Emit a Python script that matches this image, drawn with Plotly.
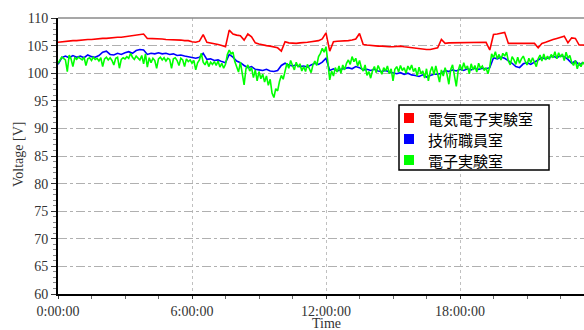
import numpy as np
import plotly.graph_objects as go

# ---- data -------------------------------------------------------------
series_names = ["電気電子実験室", "技術職員室", "電子実験室"]
series_colors = ["#ff0000", "#0000ff", "#00ff00"]

# 電気電子実験室, every 10 minutes from 0:00 (V)
red_v = [
    105.6, 105.7, 105.8, 105.8, 105.9, 105.9,
    106.0, 106.0, 106.1, 106.1, 106.2, 106.2,
    106.3, 106.3, 106.4, 106.4, 106.5, 106.5,
    106.6, 106.7, 106.8, 106.9, 107.0, 107.1,
    106.3, 106.3, 106.2, 106.2, 106.2, 106.1,
    106.1, 106.1, 106.0, 106.0, 105.9, 105.9,
    105.7, 105.6, 105.8, 107.0, 105.6, 105.5,
    105.3, 105.2, 105.0, 104.8, 107.8, 107.1,
    106.9, 106.8, 106.0, 107.1, 106.6, 105.5,
    105.3, 105.1, 105.0, 104.9, 104.7, 104.6,
    104.0, 105.7, 105.5, 105.4, 105.4, 105.5,
    105.5, 105.6, 105.7, 105.8, 105.9, 106.2,
    107.3, 104.0, 105.7, 105.8, 105.8, 105.9,
    105.9, 106.0, 106.2, 107.2, 105.2, 105.1,
    105.0, 105.0, 104.9, 104.9, 104.8, 104.8,
    104.8, 104.9, 104.9, 104.8, 104.7, 104.6,
    104.5, 104.4, 104.3, 104.3, 104.3, 104.4,
    104.6, 106.1, 105.4, 105.5, 105.5, 105.5,
    105.6, 105.6, 105.5, 105.6, 105.6, 105.5,
    105.5, 105.6, 104.2, 107.0, 107.1, 107.2,
    107.4, 105.4, 105.4, 105.4, 105.3, 105.4,
    105.3, 105.3, 105.4, 104.6, 105.4, 105.6,
    105.9, 106.1, 106.3, 106.5, 106.7, 105.5,
    106.4, 106.3, 105.1, 105.1, 105.0, 105.0,
    105.0,
]

# 技術職員室, every 10 minutes from 0:00 (V)
blue_v = [
    101.6, 102.8, 103.1, 102.8, 103.2, 102.9,
    103.1, 102.8, 103.3, 103.0, 102.9, 103.2,
    103.8, 104.0, 103.4, 103.3, 103.6, 103.4,
    103.7, 103.9, 103.6, 104.1, 104.3, 104.2,
    103.4, 103.6, 103.5, 103.7, 103.5, 103.6,
    103.4, 103.5, 103.2, 103.3, 103.1, 103.0,
    102.9, 102.7, 102.9, 103.6, 102.5, 102.6,
    102.3, 102.4, 102.1, 101.9, 103.4, 102.9,
    102.2, 101.9, 101.4, 101.0, 101.2, 100.7,
    100.6, 100.5, 100.7, 100.4, 100.3, 100.5,
    101.4, 101.8, 101.5, 101.3, 101.5, 101.2,
    101.3, 101.1, 101.5, 101.8, 101.6, 102.0,
    102.7, 100.5, 100.8, 100.4, 100.7, 100.9,
    101.0, 100.8, 101.2, 101.0, 100.6, 100.7,
    100.5, 100.7, 100.4, 100.3, 100.5, 100.2,
    100.0, 99.9, 100.1, 99.8, 100.0, 99.7,
    99.6, 99.4, 99.7, 99.3, 99.6, 99.8,
    99.8, 100.0, 100.5, 100.3, 100.6, 100.4,
    100.7, 100.5, 100.8, 100.6, 100.9, 100.7,
    100.9, 100.8, 101.0, 102.8, 102.6, 102.9,
    102.7, 102.3, 101.8, 101.2, 101.0, 101.7,
    101.9, 101.6, 102.0, 102.5, 102.8, 102.6,
    102.9, 103.1, 102.8, 103.2, 103.0, 102.5,
    101.8, 102.2, 101.5, 101.9, 101.7, 101.8,
    101.9,
]

# 電子実験室, every 5 minutes from 0:00 (V)
green_v = [
    101.8, 102.5, 102.9, 102.7, 102.4, 100.3, 103.3, 102.6, 101.2, 102.8, 102.5, 102.9,
    102.7, 102.4, 102.9, 101.4, 102.6, 102.8, 102.3, 102.9, 102.5, 102.7, 102.2, 102.8,
    101.2, 102.6, 102.9, 102.4, 102.8, 102.3, 101.5, 102.7, 102.9, 100.9, 102.5, 102.8,
    102.6, 103.0, 102.7, 103.6, 102.9, 102.5, 103.1, 102.8, 102.4, 103.2, 101.7, 103.5,
    101.1, 102.8, 101.9, 102.7, 102.3, 100.9, 102.6, 102.9, 102.4, 102.8, 102.2, 102.7,
    102.5, 100.9, 102.6, 102.8, 102.3, 101.4, 102.7, 102.4, 101.2, 102.6, 102.1, 102.4,
    101.8, 102.3, 100.6, 101.9, 102.4, 103.6, 102.0, 101.5, 102.3, 101.2, 102.0, 101.6,
    102.1, 101.4, 102.2, 101.1, 101.8, 100.9, 101.6, 103.4, 104.2, 103.5, 103.8, 102.1,
    101.2, 100.2, 102.0, 99.7, 97.9, 100.8, 101.5, 100.4, 101.0, 99.2, 100.6, 98.6,
    100.3, 99.0, 99.8, 98.4, 99.5, 97.8, 98.9, 96.4, 95.6, 97.2, 96.8, 98.5,
    99.6, 98.9, 100.5, 101.8, 100.9, 102.3, 101.4, 100.6, 102.0, 101.1, 101.7, 100.4,
    101.2, 100.3, 101.6, 100.8, 100.1, 101.5, 102.2, 101.4, 103.0, 103.6, 104.5, 103.8,
    104.8, 102.0, 98.8, 100.4, 99.5, 101.0, 100.2, 101.3, 100.0, 101.5, 100.6, 101.8,
    102.4, 101.6, 103.0, 102.1, 102.7, 101.3, 102.3, 101.0, 100.4, 101.5, 99.6, 100.3,
    99.1, 100.5, 101.2, 100.1, 101.4, 100.6, 99.8, 101.0, 100.4, 101.3, 99.9, 100.8,
    98.6, 100.7, 101.2, 100.2, 101.4, 100.5, 101.0, 100.0, 101.3, 100.6, 101.5, 100.3,
    100.9, 99.5, 101.1, 99.9, 100.4, 99.1, 100.8, 98.6, 100.3, 101.2, 99.7, 101.3,
    100.1, 98.4, 100.6, 99.5, 101.0, 99.8, 98.0, 100.7, 101.5, 99.2, 97.6, 100.4,
    101.6, 100.5, 101.9, 100.8, 101.3, 99.9, 101.7, 100.6, 101.4, 100.2, 101.8, 100.9,
    101.3, 100.5, 101.0, 99.9, 101.2, 103.5, 102.8, 103.9, 102.6, 103.4, 102.4, 103.6,
    103.1, 103.8, 102.2, 101.5, 103.0, 102.4, 101.6, 102.9, 101.8, 102.6, 103.1, 102.2,
    101.5, 102.7, 101.9, 102.8, 102.1, 101.2, 102.6, 103.3, 102.2, 103.5, 102.4, 103.1,
    102.5, 103.4, 102.8, 103.9, 102.6, 103.7, 102.9, 103.5, 102.3, 103.8, 102.7, 103.2,
    102.0, 101.4, 102.3, 100.8, 101.9, 101.2, 102.0, 101.5, 101.8, 101.3, 102.1, 101.6,
    101.8,
]

x_tick_vals = [0, 6, 12, 18]
x_tick_text = ["0:00:00", "6:00:00", "12:00:00", "18:00:00"]
y_tick_vals = [60, 65, 70, 75, 80, 85, 90, 95, 100, 105, 110]

# sample times in hours
t10 = np.arange(len(red_v)) * 10 / 60
t5 = np.arange(len(green_v)) * 5 / 60

# ---- figure -----------------------------------------------------------
W, H = 584, 330
ML, MR, MT, MB = 58, 0, 18, 36
PW, PH = W - ML - MR, H - MT - MB


def px(xp):
    """pixel column -> paper x"""
    return (xp - ML) / PW


def py(yp):
    """pixel row -> paper y"""
    return (H - MB - yp) / PH


fig = go.Figure()
for t, v, name, col in [
    (t10, red_v, series_names[0], series_colors[0]),
    (t10, blue_v, series_names[1], series_colors[1]),
    (t5, green_v, series_names[2], series_colors[2]),
]:
    fig.add_trace(go.Scatter(x=t, y=v, mode="lines", name=name,
                             line=dict(color=col, width=1.6),
                             showlegend=False, hoverinfo="skip"))

serif = "Liberation Serif, Times New Roman, serif"
tick_col = "#333333"

fig.update_layout(
    width=W, height=H,
    margin=dict(l=ML, r=MR, t=MT, b=MB, autoexpand=False),
    paper_bgcolor="white", plot_bgcolor="white",
    font=dict(family=serif, size=14, color=tick_col),
    showlegend=False,
    xaxis=dict(
        range=[0, 23.552],
        tickmode="array", tickvals=x_tick_vals, ticktext=x_tick_text,
        ticks="outside", ticklen=3, tickcolor="#333333",
        showline=True, linecolor="black", linewidth=2,
        showgrid=True, gridcolor="#c0c0c0", griddash="dot", gridwidth=1,
        zeroline=False, automargin=False,
        minor=dict(dtick=1.5, ticks="outside", ticklen=3, tickcolor="#666666", showgrid=False),
    ),
    yaxis=dict(
        range=[60, 110],
        tickmode="array", tickvals=y_tick_vals,
        ticks="outside", ticklen=5, tickcolor="#333333",
        showline=True, linecolor="black", linewidth=2,
        showgrid=True, gridcolor="#b0b0b0", griddash="dashdot", gridwidth=1,
        zeroline=False, automargin=False,
        minor=dict(dtick=1, ticks="outside", ticklen=3, tickcolor="#888888", showgrid=False),
    ),
)

# axis titles
fig.add_annotation(text="Voltage [V]", xref="paper", yref="paper",
                   x=px(18), y=py(155), textangle=-90, showarrow=False,
                   xanchor="center", yanchor="middle",
                   font=dict(family=serif, size=14, color=tick_col))
fig.add_annotation(text="Time", xref="paper", yref="paper",
                   x=px(326), y=py(332), showarrow=False,
                   xanchor="center", yanchor="bottom", borderpad=0,
                   font=dict(family=serif, size=14, color=tick_col))

# thin grey frame line along the top of the plot area
fig.add_shape(type="line", xref="paper", yref="paper", x0=0, x1=1, y0=1, y1=1,
              line=dict(color="#8a8a8a", width=1.5))

# legend box with square swatches
fig.add_shape(type="rect", xref="paper", yref="paper",
              x0=px(399), x1=px(549), y0=py(170), y1=py(105),
              fillcolor="white", line=dict(color="black", width=1.5), layer="above")
row_y = [118, 139, 160]
for name, col, ry in zip(series_names, series_colors, row_y):
    fig.add_shape(type="rect", xref="paper", yref="paper",
                  x0=px(404), x1=px(414), y0=py(ry + 5), y1=py(ry - 5),
                  fillcolor=col, line=dict(width=0), layer="above")
    fig.add_annotation(text=name, xref="paper", yref="paper",
                       x=px(426), y=py(ry), showarrow=False,
                       xanchor="left", yanchor="middle",
                       font=dict(family="Noto Sans CJK JP", size=15, color="black"))

fig.write_html("out.html")
